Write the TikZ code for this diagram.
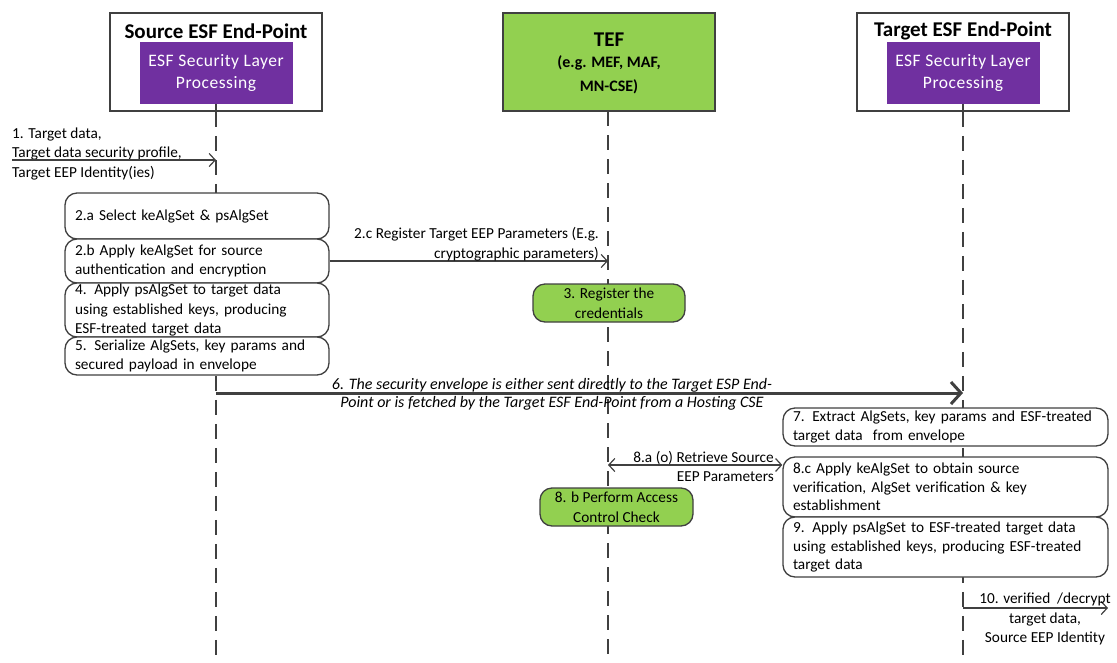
\documentclass[tikz,border=0pt]{standalone}
\usepackage{fontspec}
\setmainfont{Carlito}
\usetikzlibrary{arrows.meta}
\definecolor{esfpurple}{HTML}{7030A0}
\definecolor{tefgreen}{HTML}{92D050}
\definecolor{edgegray}{HTML}{404040}
\begin{document}
\begin{tikzpicture}[x=1pt,y=-1pt,
  every node/.style={font=\fontsize{15.3}{19.5}\selectfont, inner sep=0pt},
  lifeline/.style={draw=edgegray, line width=1.2pt, dash pattern=on 15pt off 9pt},
  actor/.style={draw=edgegray, line width=1.5pt, fill=white, minimum width=212pt, minimum height=98pt},
  titletext/.style={font=\fontsize{21}{24}\selectfont\bfseries},
  procbox/.style={fill=esfpurple, text=white, minimum width=153pt, minimum height=62pt, align=center, font=\fontsize{17.5}{22}\selectfont\addfontfeatures{LetterSpace=3}},
  stepbox/.style={draw=edgegray, line width=1.3pt, fill=white, rounded corners=12pt, align=left, inner xsep=10pt},
  rstep/.style={stepbox, text width=305pt, font=\fontsize{15.3}{18.5}\selectfont},
  greenbox/.style={draw=edgegray, line width=1.3pt, fill=tefgreen, rounded corners=12pt, align=center, minimum width=152pt, minimum height=38pt},
  msg/.style={draw=edgegray, line width=1.2pt, -{Straight Barb[length=6pt,width=13pt]}},
  bigmsg/.style={draw=edgegray, line width=3pt, -{Straight Barb[length=10pt,width=22pt]}},
  bimsg/.style={draw=edgegray, line width=1.2pt, {Straight Barb[length=6pt,width=13pt]}-{Straight Barb[length=6pt,width=13pt]}}
]
\useasboundingbox (0,0) rectangle (1117,662);

% actors
\node[actor] (src) at (216,62) {};
\node[actor, fill=tefgreen] (tef) at (609,62) {};
\node[actor] (tgt) at (963,62) {};

% lifelines
\coordinate (srcEnd) at (216,662);
\coordinate (tefEnd) at (608,662);
\coordinate (tgtEnd) at (963,662);
\coordinate (tefTop) at (608,111);
\draw[lifeline] (src.south) -- (srcEnd);
\draw[lifeline] (tefTop) -- (tefEnd);
\draw[lifeline] (tgt.south) -- (tgtEnd);

\node[titletext] (srcT) at (216,31) {Source ESF End-Point};
\node[procbox] (srcP) at (216,73) {ESF Security Layer\\Processing};
\draw[draw=edgegray, line width=1.2pt] (srcP.south) -- (src.south);

\node[titletext] (tefT) at (609,40) {TEF};
\node[font=\fontsize{16}{23.5}\selectfont\bfseries, align=center] (tefS) at (609,75) {(e.g. MEF, MAF,\\MN-CSE)};

\node[titletext] (tgtT) at (963,31) {Target ESF End-Point};
\node[procbox] (tgtP) at (963,73) {ESF Security Layer\\Processing};
\draw[draw=edgegray, line width=1.2pt] (tgtP.south) -- (tgt.south);

% message 1
\node[anchor=west, align=left] (t1) at (12,153.5) {1. Target data,\\Target data security profile,\\Target EEP Identity(ies)};
\coordinate (in1) at (12,160);
\draw[msg] (in1) -- (in1 -| src.south);

% source-side steps
\node[stepbox, text width=244pt, minimum height=46pt] (b2a) at (197,216) {2.a Select keAlgSet \& psAlgSet};
\node[stepbox, text width=244pt, minimum height=44pt] (b2b) at (197,261) {2.b Apply keAlgSet for source\\authentication and encryption};
\node[stepbox, text width=244pt, minimum height=54pt] (b4) at (197,310) {4. Apply psAlgSet to target data\\using established keys, producing\\ESF-treated target data};
\node[stepbox, text width=244pt, minimum height=38pt] (b5) at (197,356) {5. Serialize AlgSets, key params and\\secured payload in envelope};

% message 2.c
\draw[msg] (b2b.east) -- (b2b.east -| tefTop);
\node[anchor=east, align=right] (t2c) at (599,244) {2.c Register Target EEP Parameters (E.g.\\cryptographic parameters)};

% step 3
\node[greenbox] (b3) at (609,303) {3. Register the\\credentials};

% message 6
\coordinate (m6) at (216,393);
\draw[bigmsg] (m6) -- (m6 -| tgt.south);
\node[font=\fontsize{16}{18}\selectfont\itshape, align=center] (t6) at (552,394) {6. The security envelope is either sent directly to the Target ESP End-\\Point or is fetched by the Target ESF End-Point from a Hosting CSE};

% target-side steps
\node[rstep, minimum height=38pt] (b7) at (945.5,427) {7. Extract AlgSets, key params and ESF-treated\\target data~ from envelope};
\node[rstep, minimum height=60pt] (b8c) at (945.5,487) {8.c Apply keAlgSet to obtain source\\verification, AlgSet verification \& key\\establishment};
\node[rstep, minimum height=60pt] (b9) at (945.5,547) {9. Apply psAlgSet to ESF-treated target data\\using established keys, producing ESF-treated\\target data};

% message 8.a
\coordinate (m8a) at (700,465);
\draw[bimsg] (m8a -| tefTop) -- (m8a -| b8c.west);
\node[anchor=east, align=right] (t8a) at (774,466.5) {8.a (o) Retrieve Source\\EEP Parameters};

% step 8.b
\node[greenbox, minimum width=153pt] (b8b) at (616.5,507) {8. b Perform Access\\Control Check};

% message 10
\coordinate (m10) at (1108,608);
\draw[msg] (m10 -| tgt.south) -- (m10);
\node[align=center] (t10) at (1045,619) {10. verified~~/decrypt\\target data,\\Source EEP Identity};
\end{tikzpicture}
\end{document}
